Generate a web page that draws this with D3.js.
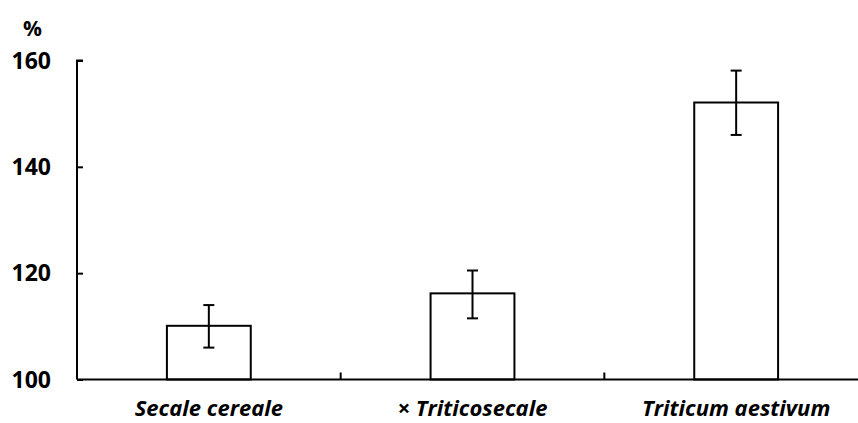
<!DOCTYPE html>
<html><head><meta charset="utf-8">
<script src="https://cdn.jsdelivr.net/npm/d3@7"></script>
<style>body{margin:0;background:#fff}svg{display:block}</style>
</head><body>
<svg id="c" width="858" height="423"></svg>
<script>
const categories = ["Secale cereale", "× Triticosecale", "Triticum aestivum"];
const values = [110.1, 116.2, 152.1];
const errUpper = [114.0, 120.5, 158.1];
const errLower = [106.0, 111.5, 146.0];
const yTicks = [100, 120, 140, 160];
const yUnit = "%";

const svg = d3.select("#c");
const L = 77, R = 868, T = 60.5, B = 379.5;
const x = d3.scaleBand().domain(categories).range([L, R]).paddingInner(0).paddingOuter(0);
const y = d3.scaleLinear().domain([100, 160]).range([B, T]);
const bw = x.bandwidth() * 0.318;
const font = "'Open Sans', 'Noto Sans', sans-serif";

// bars
svg.append("g").selectAll("rect").data(categories).join("rect")
  .attr("x", d => x(d) + x.bandwidth()/2 - bw/2)
  .attr("y", (d,i) => y(values[i]))
  .attr("width", bw)
  .attr("height", (d,i) => y(100) - y(values[i]))
  .attr("fill", "#fff").attr("stroke", "#000").attr("stroke-width", 2);

// error bars
const eg = svg.append("g").attr("stroke", "#000").attr("stroke-width", 2);
categories.forEach((c, i) => {
  const cx = x(c) + x.bandwidth()/2;
  eg.append("line").attr("x1", cx).attr("x2", cx).attr("y1", y(errUpper[i])).attr("y2", y(errLower[i]));
  eg.append("line").attr("x1", cx-5.5).attr("x2", cx+5.5).attr("y1", y(errUpper[i])).attr("y2", y(errUpper[i]));
  eg.append("line").attr("x1", cx-5.5).attr("x2", cx+5.5).attr("y1", y(errLower[i])).attr("y2", y(errLower[i]));
});

// y axis
const ya = svg.append("g").attr("transform", `translate(${L},0)`)
  .call(d3.axisRight(y).tickValues(yTicks).tickSize(6).tickFormat(""));
ya.select(".domain").attr("d", `M6,${T}H0V${B}`).attr("stroke-width", 2);
ya.selectAll(".tick line").attr("stroke-width", 2);
svg.append("g").selectAll("text").data(yTicks).join("text")
  .attr("x", 51).attr("y", d => y(d)).attr("dy", "0.36em")
  .attr("text-anchor", "end").attr("font-family", font).attr("font-weight", "bold")
  .attr("font-size", 23).attr("fill", "#000").text(d => d);
svg.append("text").attr("x", 32.5).attr("y", 36).attr("text-anchor", "middle")
  .attr("font-family", font).attr("font-weight", "bold").attr("font-size", 21).text(yUnit);

// x axis
const xa = svg.append("g").attr("transform", `translate(0,${B})`)
  .call(d3.axisTop(x).tickSize(0).tickFormat(""));
xa.select(".domain").attr("d", `M${L},0H${R}`).attr("stroke-width", 2);
xa.selectAll(".tick").remove();
const sep = categories.slice(1).map(c => x(c));
xa.selectAll(".sep").data(sep).join("line").attr("class","sep")
  .attr("x1", d => d).attr("x2", d => d).attr("y1", 0).attr("y2", -7)
  .attr("stroke", "#000").attr("stroke-width", 2);

svg.append("g").selectAll("text").data(categories).join("text")
  .attr("x", d => x(d) + x.bandwidth()/2).attr("y", 416)
  .attr("text-anchor", "middle").attr("font-family", font).attr("font-weight", "bold")
  .attr("font-style", "italic").attr("font-size", 22).attr("fill", "#000").text(d => d);
</script>
</body></html>
